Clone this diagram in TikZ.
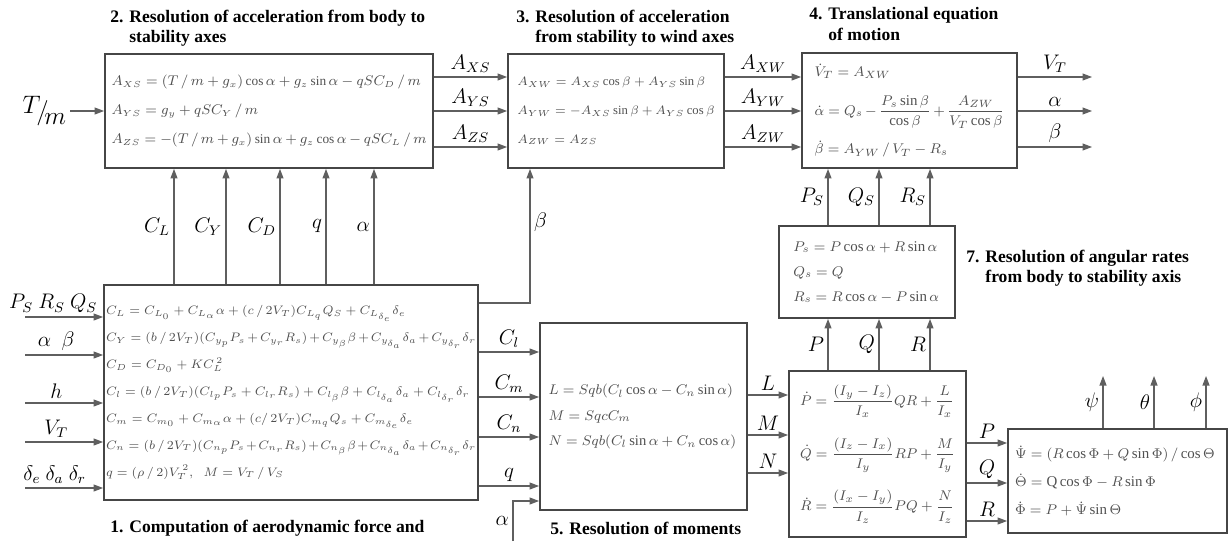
\documentclass[tikz,border=0pt]{standalone}
\usepackage{amsmath}
\usepackage{fontspec}
\setmainfont{Liberation Serif}
\usetikzlibrary{arrows.meta, positioning, calc}
\definecolor{boxgray}{RGB}{70,70,70}
\definecolor{wiregray}{RGB}{95,95,95}
\definecolor{eqgray}{RGB}{80,80,80}

\begin{document}
\begin{tikzpicture}[
    x=0.02cm, y=-0.02cm,
    blk/.style={rectangle, draw=boxgray, line width=1.1pt, inner sep=0pt, align=left, text=eqgray,
        execute at begin node={\relpenalty=10000\binoppenalty=10000}},
    arr/.style={-{Triangle[length=1.9mm, width=1.4mm]}, draw=wiregray, line width=0.6pt},
    sig/.style={font=\large, text=black, inner sep=2pt},
    ttl/.style={font=\fontsize{10}{11.5}\selectfont\bfseries, align=left, anchor=west, inner sep=0pt}
]
\useasboundingbox (0,0) rectangle (1229,541);

% Blocks
\node[blk, minimum width=7.48cm, minimum height=4.30cm, text width=7.4cm, font=\fontsize{6.7}{15.3}\selectfont] (aero) at (291,392.5) {%
$C_L = C_{L_0} + C_{L_\alpha}\alpha + (c\,/\,2V_T)C_{L_q}Q_S + C_{L_{\delta_e}}\delta_e$\\
$C_Y = (b\,/\,2V_T)(C_{y_p}P_s + C_{y_r}R_s) + C_{y_\beta}\beta + C_{y_{\delta_a}}\delta_a + C_{y_{\delta_r}}\delta_r$\\
$C_D = C_{D_0} + KC_L^{\,2}$\\
$C_l = (b\,/\,2V_T)(C_{l_p}P_s + C_{l_r}R_s) + C_{l_\beta}\beta + C_{l_{\delta_a}}\delta_a + C_{l_{\delta_r}}\delta_r$\\
$C_m = C_{m_0} + C_{m_\alpha}\alpha + (c/\,2V_T)C_{m_q}Q_s + C_{m_{\delta_e}}\delta_e$\\
$C_n = (b\,/\,2V_T)(C_{n_p}P_s + C_{n_r}R_s) + C_{n_\beta}\beta + C_{n_{\delta_a}}\delta_a + C_{n_{\delta_r}}\delta_r$\\
$q = (\rho\,/\,2)V_T^{\,2},\ \ M = V_T\,/\,V_S$};

\node[blk, minimum width=6.56cm, minimum height=2.28cm, text width=6.3cm, font=\fontsize{7.6}{16.4}\selectfont] (bodystab) at (269,111) {%
$A_{XS} = (T\,/\,m + g_x)\cos\alpha + g_z\sin\alpha - qSC_D\,/\,m$\\
$A_{YS} = g_y + qSC_Y\,/\,m$\\
$A_{ZS} = -(T\,/\,m + g_x)\sin\alpha + g_z\cos\alpha - qSC_L\,/\,m$};

\node[blk, minimum width=4.32cm, minimum height=2.28cm, text width=3.95cm, font=\fontsize{7.2}{16.4}\selectfont] (stabwind) at (616,111) {%
$A_{XW} = A_{XS}\cos\beta + A_{YS}\sin\beta$\\
$A_{YW} = -A_{XS}\sin\beta + A_{YS}\cos\beta$\\
$A_{ZW} = A_{ZS}$};

\node[blk, minimum width=4.30cm, minimum height=2.30cm, text width=3.8cm, font=\fontsize{8.5}{22}\selectfont] (transeq) at (909.5,110.5) {%
$\dot V_T = A_{XW}$\\
$\dot\alpha = Q_s - \dfrac{P_s\sin\beta}{\cos\beta} + \dfrac{A_{ZW}}{V_T\cos\beta}$\\
$\dot\beta = A_{YW}\,/\,V_T - R_s$};

\node[blk, minimum width=4.14cm, minimum height=3.74cm, text width=3.8cm, font=\fontsize{8.3}{14.4}\selectfont] (moments) at (643.5,416.5) {%
$L = Sqb(C_l\cos\alpha - C_n\sin\alpha)$\\
$M = SqcC_m$\\
$N = Sqb(C_l\sin\alpha + C_n\cos\alpha)$};

\node[blk, minimum width=3.54cm, minimum height=3.32cm, text width=3.1cm, font=\fontsize{8.3}{30}\selectfont] (rotdyn) at (877.5,454) {%
$\dot P = \dfrac{(I_y - I_z)}{I_x}QR + \dfrac{L}{I_x}$\\
$\dot Q = \dfrac{(I_z - I_x)}{I_y}RP + \dfrac{M}{I_y}$\\
$\dot R = \dfrac{(I_x - I_y)}{I_z}PQ + \dfrac{N}{I_z}$};

\node[blk, minimum width=3.52cm, minimum height=1.84cm, text width=2.95cm, font=\fontsize{8.5}{14.2}\selectfont] (rates) at (867,272) {%
$P_s = P\cos\alpha + R\sin\alpha$\\
$Q_s = Q$\\
$R_s = R\cos\alpha - P\sin\alpha$};

\node[blk, minimum width=4.38cm, minimum height=2.08cm, text width=4.1cm, font=\fontsize{8.5}{16}\selectfont] (euler) at (1117.5,481) {%
$\dot\Psi = (R\cos\Phi + Q\sin\Phi)\,/\cos\Theta$\\
$\dot\Theta = \mathrm{Q}\cos\Phi - R\sin\Phi$\\
$\dot\Phi = P + \dot\Psi\sin\Theta$};

% Titles
\node[ttl] (t1) at (110,528) {1. Computation of aerodynamic force and};
\node[ttl] (t2) at (110,28) {2. Resolution of acceleration from body to\\\phantom{2. }stability axes};
\node[ttl] (t3) at (516,28) {3. Resolution of acceleration\\\phantom{3. }from stability to wind axes};
\node[ttl] (t4) at (809,24) {4. Translational equation\\\phantom{4. }of motion};
\node[ttl] (t5) at (550,528) {5. Resolution of moments};
\node[ttl] (t7) at (966,268.5) {7. Resolution of angular rates\\\phantom{7. }from body to stability axis};

% Rows and columns
\coordinate (rowA) at (0,77);
\coordinate (rowB) at (0,111);
\coordinate (rowC) at (0,147);
\coordinate (outend) at (1092,0);
\coordinate (colCL) at (174,0);
\coordinate (colCY) at (226,0);
\coordinate (colCD) at (280,0);
\coordinate (colq) at (326,0);
\coordinate (colal) at (374,0);
\coordinate (colbeta) at (530,0);
\coordinate (rowbeta) at (0,303);
\coordinate (rowCl) at (0,352);
\coordinate (rowCm) at (0,397);
\coordinate (rowCn) at (0,437);
\coordinate (rowq) at (0,486);
\coordinate (rowal) at (0,501);
\coordinate (rowL) at (0,395);
\coordinate (rowM) at (0,435);
\coordinate (rowN) at (0,473);
\coordinate (rowP) at (0,443);
\coordinate (rowQ) at (0,483);
\coordinate (rowR) at (0,521);
\coordinate (colP) at (828,0);
\coordinate (colQ) at (879,0);
\coordinate (colR) at (930,0);
\coordinate (colpsi) at (1103,0);
\coordinate (colth) at (1154,0);
\coordinate (colphi) at (1206,0);
\coordinate (toprow) at (0,376);

% Inputs
\coordinate (tmin) at (70,111);
\draw[arr] (tmin) -- (bodystab.west |- tmin);
\node[sig, anchor=east, font=\Large] (tm) at (tmin) {$\raisebox{3pt}{$T$}\!/\!\raisebox{-3pt}{$m$}$};

\coordinate (inPRQ) at (25,317);
\coordinate (inab) at (25,355);
\coordinate (inh) at (25,403);
\coordinate (inV) at (25,442);
\coordinate (indel) at (25,488);
\draw[arr] (inPRQ) -- (aero.west |- inPRQ) node[pos=0.36, above, sig] {$P_S\ R_S\ Q_S$};
\draw[arr] (inab) -- (aero.west |- inab) node[pos=0.4, above, sig] {$\alpha\ \ \beta$};
\draw[arr] (inh) -- (aero.west |- inh) node[pos=0.4, above, sig] {$h$};
\draw[arr] (inV) -- (aero.west |- inV) node[pos=0.4, above, sig] {$V_T$};
\draw[arr] (indel) -- (aero.west |- indel) node[pos=0.38, above, sig] {$\delta_e\ \delta_a\ \delta_r$};

% Block 2 -> 3 -> 4 -> out
\draw[arr] (bodystab.east |- rowA) -- (stabwind.west |- rowA) node[midway, above, sig] {$A_{XS}$};
\draw[arr] (bodystab.east |- rowB) -- (stabwind.west |- rowB) node[midway, above, sig] {$A_{YS}$};
\draw[arr] (bodystab.east |- rowC) -- (stabwind.west |- rowC) node[midway, above, sig] {$A_{ZS}$};
\draw[arr] (stabwind.east |- rowA) -- (transeq.west |- rowA) node[midway, above, sig] {$A_{XW}$};
\draw[arr] (stabwind.east |- rowB) -- (transeq.west |- rowB) node[midway, above, sig] {$A_{YW}$};
\draw[arr] (stabwind.east |- rowC) -- (transeq.west |- rowC) node[midway, above, sig] {$A_{ZW}$};
\draw[arr] (transeq.east |- rowA) -- (outend |- rowA) node[midway, above, sig] {$V_T$};
\draw[arr] (transeq.east |- rowB) -- (outend |- rowB) node[midway, above, sig] {$\alpha$};
\draw[arr] (transeq.east |- rowC) -- (outend |- rowC) node[midway, above, sig] {$\beta$};

% Block 1 -> 2, 3
\draw[arr] (aero.north -| colCL) -- (bodystab.south -| colCL) node[midway, left, sig] {$C_L$};
\draw[arr] (aero.north -| colCY) -- (bodystab.south -| colCY) node[midway, left, sig] {$C_Y$};
\draw[arr] (aero.north -| colCD) -- (bodystab.south -| colCD) node[midway, left, sig] {$C_D$};
\draw[arr] (aero.north -| colq) -- (bodystab.south -| colq) node[midway, left, sig] {$q$};
\draw[arr] (aero.north -| colal) -- (bodystab.south -| colal) node[midway, left, sig] {$\alpha$};
\draw[arr] (aero.east |- rowbeta) -| (stabwind.south -| colbeta) node[pos=0.8, right, sig] {$\beta$};

% Block 1 -> 5
\draw[arr] (aero.east |- rowCl) -- (moments.west |- rowCl) node[midway, above, sig] {$C_l$};
\draw[arr] (aero.east |- rowCm) -- (moments.west |- rowCm) node[midway, above, sig] {$C_m$};
\draw[arr] (aero.east |- rowCn) -- (moments.west |- rowCn) node[midway, above, sig] {$C_n$};
\draw[arr] (aero.east |- rowq) -- (moments.west |- rowq) node[midway, above, sig] {$q$};
\coordinate (alphain) at (513,541);
\draw[arr] (alphain) |- (moments.west |- rowal) node[pos=0.25, left, sig] {$\alpha$};

% Block 5 -> 6
\draw[arr] (moments.east |- rowL) -- (rotdyn.west |- rowL) node[midway, above, sig] {$L$};
\draw[arr] (moments.east |- rowM) -- (rotdyn.west |- rowM) node[midway, above, sig] {$M$};
\draw[arr] (moments.east |- rowN) -- (rotdyn.west |- rowN) node[midway, above, sig] {$N$};

% Block 6 -> 7 -> 4
\draw[arr] (rotdyn.north -| colP) -- (rates.south -| colP) node[midway, left, sig] {$P$};
\draw[arr] (rotdyn.north -| colQ) -- (rates.south -| colQ) node[midway, left, sig] {$Q$};
\draw[arr] (rotdyn.north -| colR) -- (rates.south -| colR) node[midway, left, sig] {$R$};
\draw[arr] (rates.north -| colP) -- (transeq.south -| colP) node[midway, left, sig] {$P_S$};
\draw[arr] (rates.north -| colQ) -- (transeq.south -| colQ) node[midway, left, sig] {$Q_S$};
\draw[arr] (rates.north -| colR) -- (transeq.south -| colR) node[midway, left, sig] {$R_S$};

% Block 6 -> 8 -> out
\draw[arr] (rotdyn.east |- rowP) -- (euler.west |- rowP) node[midway, above, sig] {$P$};
\draw[arr] (rotdyn.east |- rowQ) -- (euler.west |- rowQ) node[midway, above, sig] {$Q$};
\draw[arr] (rotdyn.east |- rowR) -- (euler.west |- rowR) node[midway, above, sig] {$R$};
\draw[arr] (euler.north -| colpsi) -- (colpsi |- toprow) node[midway, left, sig] {$\psi$};
\draw[arr] (euler.north -| colth) -- (colth |- toprow) node[midway, left, sig] {$\theta$};
\draw[arr] (euler.north -| colphi) -- (colphi |- toprow) node[midway, left, sig] {$\phi$};
\end{tikzpicture}
\end{document}
